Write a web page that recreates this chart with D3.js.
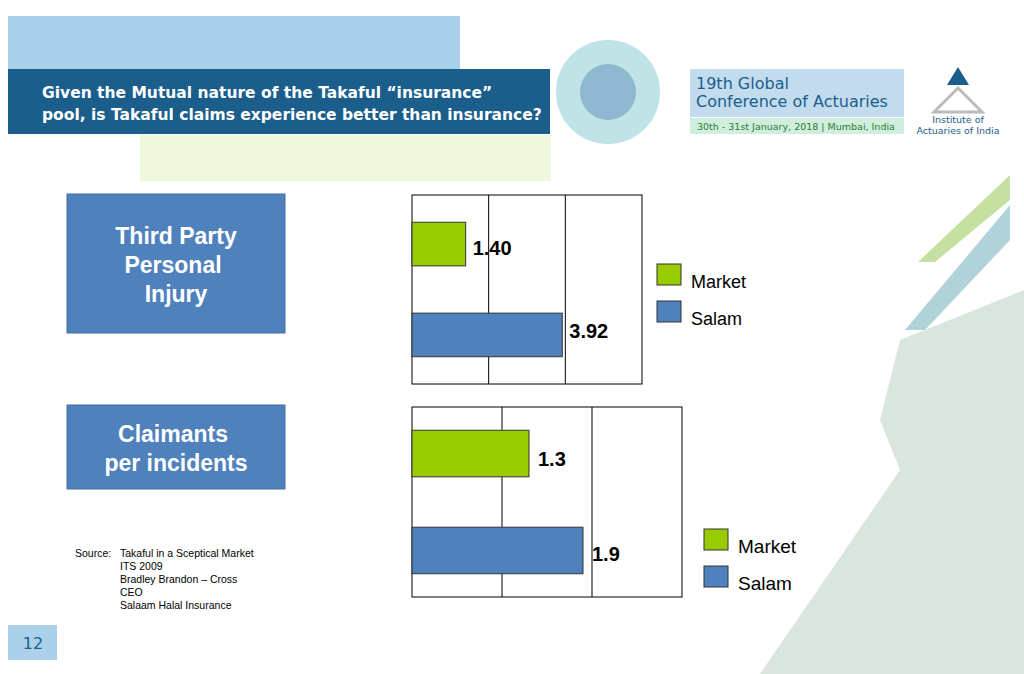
<!DOCTYPE html>
<html><head><meta charset="utf-8">
<script src="https://cdn.jsdelivr.net/npm/d3@7"></script>
<style>body{margin:0;background:#fff}svg{display:block}</style>
</head><body>
<svg id="slide" width="1024" height="674"></svg>
<script>
// chart data
const series = ["Market", "Salam"];
const colors = ["#99cc00", "#4f81bd"];
const injuryValues = [1.40, 3.92];
const injuryLabels = ["1.40", "3.92"];
const injuryTicks = [0, 2, 4, 6];
const claimValues = [1.3, 1.9];
const claimLabels = ["1.3", "1.9"];
const claimTicks = [0, 1, 2, 3];
const sourceLines = ["Takaful in a Sceptical Market", "ITS 2009", "Bradley Brandon \u2013 Cross", "CEO", "Salaam Halal Insurance"];

const svg = d3.select("#slide");

// decorative stripes on the right
const stripes = [
  [[1010,175],[1010,200],[935,262],[918,262]],
  [[1010,205],[1010,240],[925,330],[905,330]],
  [[900,340],[1024,290],[1024,674],[760,674],[900,470],[880,420]]
];
svg.selectAll(".stripe").data(stripes).enter().append("polygon")
  .attr("points", d => d.map(p => p.join(",")).join(" "))
  .attr("fill", (d, i) => ["#b8d88a", "#9cc7cf", "#cfe0d6"][i]).attr("opacity", 0.8);

// header
svg.append("rect").attr("x", 8).attr("y", 16).attr("width", 452).attr("height", 53).attr("fill", "#aad0ea");
svg.append("rect").attr("x", 140).attr("y", 135).attr("width", 411).attr("height", 46).attr("fill", "#eff8dc");
svg.append("rect").attr("x", 8).attr("y", 69).attr("width", 542).attr("height", 65).attr("fill", "#1b5e8c");
svg.append("text").attr("x", 42).attr("y", 98).attr("fill", "#fff").attr("font-family", "DejaVu Sans")
  .attr("font-size", 15.5).attr("font-weight", "bold").text("Given the Mutual nature of the Takaful \u201cinsurance\u201d");
svg.append("text").attr("x", 42).attr("y", 120).attr("fill", "#fff").attr("font-family", "DejaVu Sans")
  .attr("font-size", 15.5).attr("font-weight", "bold").text("pool, is Takaful claims experience better than insurance?");

// conference logo
svg.append("circle").attr("cx", 608).attr("cy", 92).attr("r", 52).attr("fill", "#bfe3e6");
svg.append("circle").attr("cx", 608).attr("cy", 92).attr("r", 28).attr("fill", "#8fb7cf");
svg.append("rect").attr("x", 690).attr("y", 69).attr("width", 214).attr("height", 48).attr("fill", "#c2dcee");
svg.append("rect").attr("x", 690).attr("y", 118).attr("width", 214).attr("height", 16).attr("fill", "#cfeedd");
svg.append("text").attr("x", 696).attr("y", 89).attr("fill", "#1b5e8c").attr("font-family", "DejaVu Sans").attr("font-size", 16).text("19th Global");
svg.append("text").attr("x", 696).attr("y", 107).attr("fill", "#1b5e8c").attr("font-family", "DejaVu Sans").attr("font-size", 16).text("Conference of Actuaries");
svg.append("text").attr("x", 697).attr("y", 130).attr("fill", "#2e7d32").attr("font-family", "DejaVu Sans").attr("font-size", 9.5).text("30th - 31st January, 2018 | Mumbai, India");
svg.append("polygon").attr("points", "958,67 947,85 969,85").attr("fill", "#1b5e8c");
svg.append("polygon").attr("points", "934,112 958,88 982,112").attr("fill", "none").attr("stroke", "#bbb").attr("stroke-width", 3);
svg.append("text").attr("x", 958).attr("y", 123).attr("text-anchor", "middle").attr("fill", "#1b5e8c").attr("font-family", "DejaVu Sans").attr("font-size", 9.5).text("Institute of");
svg.append("text").attr("x", 958).attr("y", 134).attr("text-anchor", "middle").attr("fill", "#1b5e8c").attr("font-family", "DejaVu Sans").attr("font-size", 9.5).text("Actuaries of India");

// left title boxes
function titleBox(y, h, lines, xs, ys) {
  svg.append("rect").attr("x", 67).attr("y", y).attr("width", 218).attr("height", h).attr("fill", "#4f81bd").attr("stroke", "#3e6ea6");
  lines.forEach((t, i) => svg.append("text").attr("x", xs[i]).attr("y", ys[i])
    .attr("text-anchor", "middle").attr("fill", "#fff").attr("font-family", "Liberation Sans")
    .attr("font-size", 23).attr("font-weight", "bold").text(t));
}
titleBox(194, 139, ["Third Party", "Personal", "Injury"], [176, 173, 176], [244, 273, 302]);
titleBox(405, 84, ["Claimants", "per incidents"], [173, 176], [442, 471]);

// bar charts
function barChart(cfg) {
  const x = d3.scaleLinear().domain([0, d3.max(cfg.ticks)]).range([cfg.x0, cfg.x1]);
  const y = d3.scaleBand().domain(series).range([cfg.y0, cfg.y1]).paddingInner(0.52).paddingOuter(cfg.po);
  const g = svg.append("g");
  g.append("rect").attr("x", cfg.x0).attr("y", cfg.y0).attr("width", cfg.x1 - cfg.x0).attr("height", cfg.y1 - cfg.y0)
    .attr("fill", "#fff").attr("stroke", "#000");
  g.selectAll(".grid").data(cfg.ticks.slice(1, -1)).enter().append("line")
    .attr("x1", d => x(d)).attr("x2", d => x(d)).attr("y1", cfg.y0).attr("y2", cfg.y1).attr("stroke", "#000");
  g.selectAll(".bar").data(cfg.values).enter().append("rect")
    .attr("x", x(0)).attr("y", (d, i) => y(series[i])).attr("width", d => x(d) - x(0)).attr("height", y.bandwidth())
    .attr("fill", (d, i) => colors[i]).attr("stroke", "#333");
  g.selectAll(".lbl").data(cfg.values).enter().append("text")
    .attr("x", d => x(d) + cfg.dx).attr("y", (d, i) => y(series[i]) + y.bandwidth() / 2 + cfg.dy[i])
    .attr("font-family", "Liberation Sans").attr("font-size", 20).attr("font-weight", "bold")
    .text((d, i) => cfg.labels[i]);
  series.forEach((s, i) => {
    g.append("rect").attr("x", cfg.lx).attr("y", cfg.ly + i * 37).attr("width", 24).attr("height", 21)
      .attr("fill", colors[i]).attr("stroke", "#333");
    g.append("text").attr("x", cfg.lx + 34).attr("y", cfg.ly + i * 37 + 24)
      .attr("font-family", "Liberation Sans").attr("font-size", cfg.lfs).text(s);
  });
}
barChart({x0: 412, x1: 642, y0: 195, y1: 384, po: 0.3, ticks: injuryTicks, values: injuryValues, labels: injuryLabels, dx: 7, dy: [11, 3], lx: 657, ly: 264, lfs: 18});
barChart({x0: 412, x1: 682, y0: 407, y1: 597, po: 0.24, ticks: claimTicks, values: claimValues, labels: claimLabels, dx: 9, dy: [12, 11], lx: 704, ly: 529, lfs: 19});

// source note
svg.append("text").attr("x", 75).attr("y", 557).attr("font-family", "Liberation Sans").attr("font-size", 10.5).text("Source:");
sourceLines.forEach((t, i) => svg.append("text").attr("x", 120).attr("y", 557 + i * 13)
  .attr("font-family", "Liberation Sans").attr("font-size", 10.5).text(t));

// page number
svg.append("rect").attr("x", 8).attr("y", 625).attr("width", 49).attr("height", 35).attr("fill", "#aad0ea");
svg.append("text").attr("x", 33).attr("y", 649).attr("text-anchor", "middle").attr("fill", "#1b5e8c")
  .attr("font-family", "DejaVu Sans").attr("font-size", 16).text("12");
</script>
</body></html>
